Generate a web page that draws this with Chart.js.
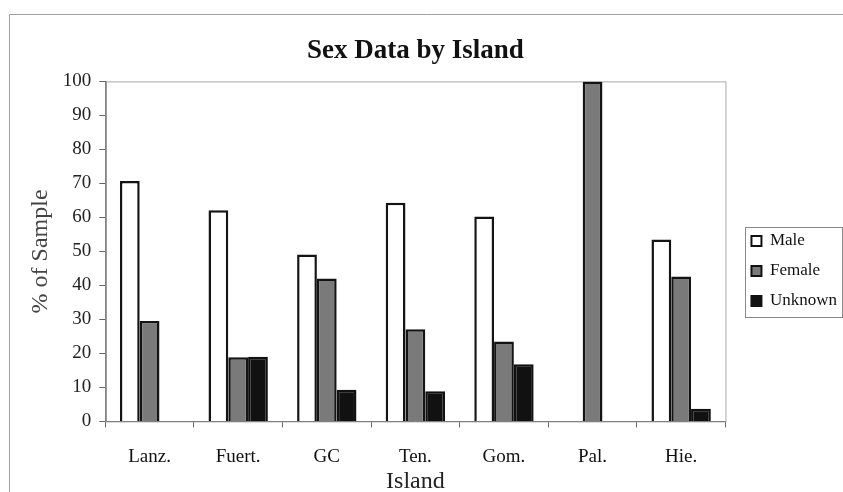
<!DOCTYPE html>
<html>
<head>
<meta charset="utf-8">
<script src="https://cdn.jsdelivr.net/npm/chart.js@4"></script>
<style>
  html, body { margin: 0; padding: 0; background: #fff; }
  #wrap { width: 843px; height: 492px; position: relative; }
</style>
</head>
<body>
<div id="wrap"><canvas id="sexChart"></canvas></div>
<script>
// chart data
const islands = ["Lanz.", "Fuert.", "GC", "Ten.", "Gom.", "Pal.", "Hie."];
const maleValues = [70.7, 62.1, 49.1, 64.3, 60.3, 0, 53.5];
const femaleValues = [29.5, 18.9, 42.0, 27.1, 23.5, 100, 42.6];
const unknownValues = [0, 19.0, 9.3, 8.9, 16.8, 0, 3.7];

const serif = "'Liberation Serif', 'Times New Roman', serif";

// no border on empty bars so no stray lines appear
function borderFor(ctx) {
    return ctx.raw ? 2.5 : 0;
}

// nudges after layout: title over the plot, legend moved off the plot edge
const tweaks = {
    id: "tweaks",
    afterLayout(chart) {
        const a = chart.chartArea;
        const tb = chart.titleBlock;
        if (tb) { tb.left = a.left; tb.right = a.right; }
        const lg = chart.legend;
        if (lg) {
            const dx = a.right + 13 - lg.left;
            lg.left += dx; lg.right += dx;
            lg.top += 25; lg.bottom += 25;
        }
    },
    beforeDatasetsDraw(chart) {
        const c = chart.ctx, a = chart.chartArea;
        c.save();
        c.strokeStyle = "#a8a8a8";
        c.lineWidth = 1;
        c.strokeRect(a.left + 0.5, a.top + 0.5, a.right - a.left, a.bottom - a.top);
        c.restore();
    },
    afterDraw(chart) {
        const c = chart.ctx, lg = chart.legend;
        c.save();
        c.strokeStyle = "#a0a0a0";
        c.lineWidth = 1;
        // outer frame, only top and left show in the picture
        c.beginPath();
        c.moveTo(9.5, chart.height);
        c.lineTo(9.5, 14.5);
        c.lineTo(chart.width, 14.5);
        c.stroke();
        if (lg && lg.legendHitBoxes.length) {
            const boxes = lg.legendHitBoxes;
            const x0 = Math.round(boxes[0].left - 6) + 0.5;
            const y0 = Math.round(boxes[0].top - 6) + 0.5;
            const last = boxes[boxes.length - 1];
            const y1 = Math.round(last.top + last.height + 7) + 0.5;
            c.strokeStyle = "#8a8a8a";
            c.strokeRect(x0, y0, chart.width - x0 - 0.5, y1 - y0);
        }
        c.restore();
    }
};

var config = {
    type: "bar",
    data: {
        labels: islands,
        datasets: [{
            label: "Male",
            data: maleValues,
            backgroundColor: "#ffffff",
            borderColor: "#141414",
            borderWidth: borderFor
        }, {
            label: "Female",
            data: femaleValues,
            backgroundColor: "#7a7a7a",
            borderColor: "#141414",
            borderWidth: borderFor
        }, {
            label: "Unknown",
            data: unknownValues,
            backgroundColor: "#111111",
            borderColor: "#111111",
            borderWidth: borderFor
        }]
    },
    options: {
        responsive: true,
        maintainAspectRatio: false,
        animation: false,
        datasets: {
            bar: {
                barPercentage: 1,
                categoryPercentage: 0.67,
                borderSkipped: "start"
            }
        },
        layout: {
            padding: { left: 26, right: 9, top: 0, bottom: 0 }
        },
        plugins: {
            title: {
                display: true,
                text: "Sex Data by Island",
                color: "#111",
                font: { family: serif, size: 27, weight: "bold" },
                padding: { top: 35, bottom: 14 }
            },
            legend: {
                position: "right",
                align: "center",
                labels: {
                    color: "#000",
                    font: { family: serif, size: 17 },
                    boxWidth: 10,
                    boxHeight: 10,
                    padding: 13,
                    generateLabels(chart) {
                        return chart.data.datasets.map((ds, i) => ({
                            text: ds.label,
                            fillStyle: ds.backgroundColor,
                            strokeStyle: "#111",
                            lineWidth: 2,
                            datasetIndex: i,
                            fontColor: "#111"
                        }));
                    }
                }
            },
            tooltip: { enabled: false }
        },
        scales: {
            x: {
                grid: {
                    display: true,
                    drawOnChartArea: false,
                    drawTicks: true,
                    tickLength: 6,
                    color: "#666"
                },
                border: { display: true, color: "#444", width: 1 },
                ticks: {
                    color: "#111",
                    font: { family: serif, size: 19 },
                    padding: 18
                },
                title: {
                    display: true,
                    text: "Island",
                    color: "#222",
                    font: { family: serif, size: 24 },
                    padding: { top: -19, bottom: -4 }
                }
            },
            y: {
                min: 0,
                max: 100,
                ticks: {
                    stepSize: 10,
                    color: "#222",
                    font: { family: serif, size: 19 },
                    padding: 8
                },
                grid: {
                    display: true,
                    drawOnChartArea: false,
                    drawTicks: true,
                    tickLength: 6,
                    color: "#666"
                },
                border: { display: true, color: "#333", width: 1.5 },
                title: {
                    display: true,
                    text: "% of Sample",
                    color: "#444",
                    font: { family: serif, size: 24 },
                    padding: { top: 0, bottom: 0 }
                }
            }
        }
    },
    plugins: [tweaks]
};

window.sexChart = new Chart(document.getElementById("sexChart"), config);
</script>
</body>
</html>
